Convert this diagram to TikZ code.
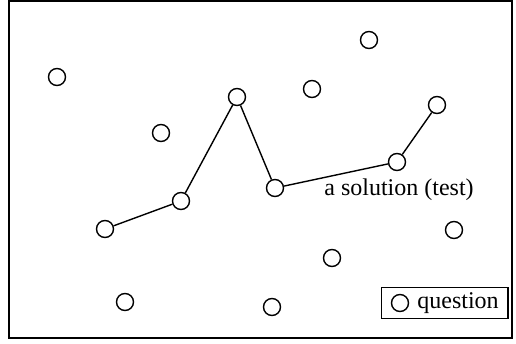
\documentclass[tikz,border=0pt]{standalone}
\usepackage{fontspec}
\setmainfont{Liberation Serif}
\usepackage{tikz}
\usetikzlibrary{positioning,fit}

\begin{document}
\begin{tikzpicture}[x=1pt, y=-1pt,
q/.style={draw, circle, line width=1.4pt, minimum size=17pt, inner sep=0pt, fill=white},
link/.style={line width=1.4pt},
lbl/.style={font=\fontsize{24}{28}\selectfont, inner sep=0pt}
]
\useasboundingbox (0,0) rectangle (516,344);
\draw[line width=1.8pt] (9,1) rectangle (512,338);

% path of the solution
\node[q] (p1) at (105,229) {};
\node[q] (p2) at (181,201) {};
\node[q] (p3) at (237,97) {};
\node[q] (p4) at (275,188) {};
\node[q] (p5) at (397,162) {};
\node[q] (p6) at (437,105) {};

\draw[link] (p1) -- (p2);
\draw[link] (p2) -- (p3);
\draw[link] (p3) -- (p4);
\draw[link] (p4) -- (p5);
\draw[link] (p5) -- (p6);

% other questions
\node[q] (o1) at (57,77) {};
\node[q] (o2) at (161,133) {};
\node[q] (o3) at (312,89) {};
\node[q] (o4) at (369,40) {};
\node[q] (o5) at (454,230) {};
\node[q] (o6) at (332,258) {};
\node[q] (o7) at (125,302) {};
\node[q] (o8) at (272,307) {};

\node[lbl] (sol) at (399,190) {a solution (test)};

% legend
\node[q] (kq) at (400,303) {};
\node[lbl, right=8pt of kq] (kt) {question};
\node[draw, line width=1.2pt, fit=(kq)(kt), inner xsep=9pt, inner ysep=5pt] (key) {};

\end{tikzpicture}
\end{document}
